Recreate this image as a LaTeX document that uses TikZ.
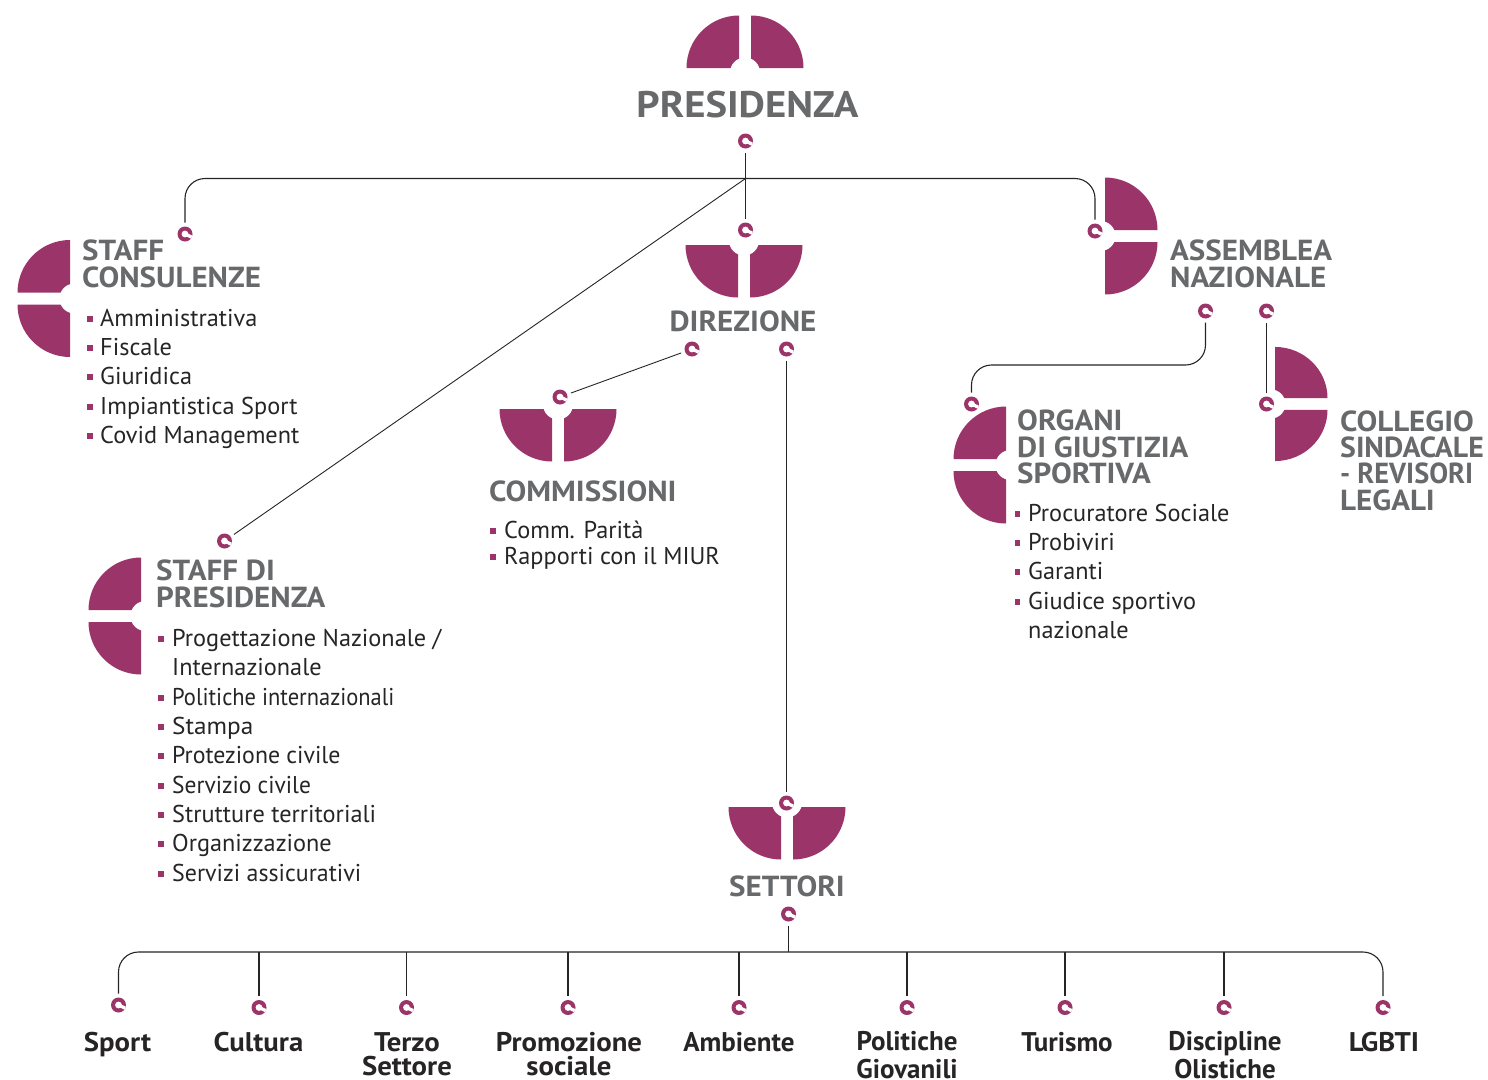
\documentclass[tikz,border=0pt]{standalone}
\usepackage{fontspec}
\setmainfont{PT Sans}
\newfontfamily\titlefont[FakeStretch=1.07]{PT Sans Bold}
\newfontfamily\leaffont{PT Sans Bold}
\newfontfamily\leafwide[FakeStretch=1.065]{PT Sans Bold}
\definecolor{mag}{HTML}{9B3468}
\definecolor{gtitle}{HTML}{68696B}
\definecolor{dk}{HTML}{262425}
\tikzset{
  ringdot/.style={circle,fill=mag,minimum size=15pt,inner sep=0pt,outer sep=4pt,
    path picture={
      \fill[white] (path picture bounding box.center) circle (3.4pt);
      \draw[white,line width=3.3pt] (path picture bounding box.center) -- ++(-25:10pt);
    }},
  wire/.style={draw=dk,line width=1.1pt},
  thinwire/.style={draw=dk,line width=0.9pt},
  title/.style={anchor=base west,inner sep=0pt,text=gtitle,font=\fontsize{29}{29}\selectfont\titlefont},
  ctitle/.style={title,anchor=base},
  item/.style={anchor=base west,inner sep=0pt,text=dk,font=\fontsize{24.3}{24.3}\selectfont},
  leaf/.style={anchor=base,inner sep=0pt,text=dk,font=\fontsize{27}{27}\selectfont\leaffont},
  leafw/.style={leaf,font=\fontsize{27}{27}\selectfont\leafwide},
  bulletmark/.style={fill=mag,inner sep=0pt,minimum size=5.5pt},
}
% emblem: [dome scale], centre x, y, rotation (0 = dome upward)
\newcommand{\emblem}[4][1]{%
  \begin{scope}[shift={(#2,#3)},rotate=#4,xscale=#1]
    \fill[mag] (-6,0) -- (-58.5,0) arc[start angle=180,end angle=270,radius=52.5] -- cycle;
    \fill[mag] (6,0) -- (58.5,0) arc[start angle=0,end angle=-90,radius=52.5] -- cycle;
    \fill[white] (0,4.5) circle (15);
  \end{scope}}
\newcommand{\bul}[5]{% name, bullet x, text x, baseline y, text
  \node[bulletmark] (#1b) at (#2,#4-7) {};
  \node[item] (#1) at (#3,#4) {#5};}
\begin{document}
\begin{tikzpicture}[x=1pt,y=-1pt]
\useasboundingbox (0,0) rectangle (1488,1079);
\clip (0,0) rectangle (1488,1079);
\emblem{745}{68}{0}
\emblem{70}{298.5}{90}
\emblem{744}{245}{180}
\emblem{558}{409}{180}
\emblem{787}{807}{180}
\emblem{1105}{236}{-90}
\emblem[0.975]{1275}{404}{-90}
\emblem{1006}{465}{90}
\emblem{141}{616}{90}

\node[ctitle,font=\fontsize{37}{37}\selectfont\titlefont] (tpres) at (747.5,117) {\scalebox{1.028}[1]{PRESIDENZA}};
\node[ctitle] (tdir) at (743,331) {DIREZIONE};
\node[title] (tcomm) at (489,501) {COMMISSIONI};
\node[ctitle] (tsett) at (787,896) {SETTORI};
\node[title] (ts1) at (82,260) {STAFF};
\node[title] (ts2) at (82,287) {CONSULENZE};
\node[title] (ta1) at (1170,260) {ASSEMBLEA};
\node[title] (ta2) at (1170,287) {NAZIONALE};
\node[title] (to1) at (1017,430) {ORGANI};
\node[title] (to2) at (1017,457) {DI GIUSTIZIA};
\node[title] (to3) at (1017,483) {SPORTIVA};
\node[title] (tc1) at (1340,431) {COLLEGIO};
\node[title] (tc2) at (1340,457) {\scalebox{0.96}[1]{SINDACALE}};
\node[title] (tc3) at (1340,483) {\scalebox{0.91}[1]{- REVISORI}};
\node[title] (tc4) at (1340,510) {LEGALI};
\node[title] (tp1) at (156,580) {STAFF DI};
\node[title] (tp2) at (156,607) {PRESIDENZA};

\bul{a1}{90}{100}{326}{Amministrativa}
\bul{a2}{90}{100}{355}{Fiscale}
\bul{a3}{90}{100}{384}{Giuridica}
\bul{a4}{90}{100}{414}{Impiantistica Sport}
\bul{a5}{90}{100}{443}{Covid Management}
\bul{c1}{493}{504}{538}{Comm. Parità}
\bul{c2}{493}{504}{564}{Rapporti con il MIUR}
\bul{g1}{1017.5}{1028}{521}{Procuratore Sociale}
\bul{g2}{1017.5}{1028}{550}{Probiviri}
\bul{g3}{1017.5}{1028}{579}{Garanti}
\bul{g4}{1017.5}{1028}{609}{Giudice sportivo}
\node[item] (g5) at (1028,638) {nazionale};
\bul{p1}{161}{172}{646}{Progettazione Nazionale /}
\node[item] (p1b2) at (172,675) {Internazionale};
\bul{p2}{161}{172}{705}{\scalebox{0.925}[1]{Politiche internazionali}}
\bul{p3}{161}{172}{734}{\scalebox{1.04}[1]{Stampa}}
\bul{p4}{161}{172}{763}{\scalebox{0.98}[1]{Protezione civile}}
\bul{p5}{161}{172}{793}{\scalebox{0.965}[1]{Servizio civile}}
\bul{p6}{161}{172}{822}{Strutture territoriali}
\bul{p7}{161}{172}{851}{Organizzazione}
\bul{p8}{161}{172}{881}{\scalebox{0.985}[1]{Servizi assicurativi}}

\node[leafw] (l1) at (117.5,1051) {Sport};
\node[leafw] (l2) at (258.5,1051) {Cultura};
\node[leafw] (l3) at (407,1051) {Terzo};
\node[leafw] (l3b) at (407,1075) {Settore};
\node[leafw] (l4) at (569,1051) {Promozione};
\node[leafw] (l4b) at (569,1075) {sociale};
\node[leaf] (l5) at (739,1051) {Ambiente};
\node[leaf] (l6) at (907,1050) {Politiche};
\node[leaf] (l6b) at (907,1078) {Giovanili};
\node[leaf] (l7) at (1067,1051) {Turismo};
\node[leaf] (l8) at (1225,1050) {Discipline};
\node[leaf] (l8b) at (1225,1078) {Olistiche};
\node[leafw] (l9) at (1384,1051) {LGBTI};

\node[ringdot] (rpres) at (745.5,141) {};
\node[ringdot] (rstaff) at (185,234) {};
\node[ringdot] (rdir) at (745.5,230) {};
\node[ringdot] (rass) at (1095,231) {};
\node[ringdot] (rsp) at (224.5,541) {};
\node[ringdot] (rd1) at (692,349) {};
\node[ringdot] (rd2) at (786.5,349) {};
\node[ringdot] (rcomm) at (560,397) {};
\node[ringdot] (rsett) at (786.5,803) {};
\node[ringdot] (ra1) at (1205.5,311) {};
\node[ringdot] (ra2) at (1266.5,311) {};
\node[ringdot] (rorg) at (971.5,404) {};
\node[ringdot] (rcol) at (1266.5,404) {};
\node[ringdot] (rs) at (788.5,914) {};
\node[ringdot] (b1) at (118.5,1005) {};
\node[ringdot] (b2) at (259,1007.5) {};
\node[ringdot] (b3) at (406.5,1007.5) {};
\node[ringdot] (b4) at (568,1007.5) {};
\node[ringdot] (b5) at (739,1007.5) {};
\node[ringdot] (b6) at (907,1007.5) {};
\node[ringdot] (b7) at (1065,1007.5) {};
\node[ringdot] (b8) at (1224,1007.5) {};
\node[ringdot] (b9) at (1383,1007.5) {};

\coordinate (jt) at (745.5,178.5);
\coordinate (jb) at (788.5,952);
\path[wire] (rpres.south) -- (rdir.north);
\path[wire,rounded corners=20] (rstaff.north) -- (rstaff.north |- jt) -- (rass.north |- jt) -- (rass.north);
\path[thinwire] (jt) -- (rsp);
\path[thinwire] (rd1) -- (rcomm);
\path[wire] (rd2.south) -- (rsett.north);
\path[wire,rounded corners=20] (ra1.south) |- (rorg.north |- 0,365) -- (rorg.north);
\path[wire] (ra2.south) -- (rcol.north);
\path[wire] (rs.south) -- (jb);
\path[wire,rounded corners=20] (b1.north) -- (b1.north |- jb) -- (b9.north |- jb) -- (b9.north);
\foreach \n in {b2,b3,b4,b5,b6,b7,b8} {\path[wire] (\n.north) -- (\n.north |- jb);}
\end{tikzpicture}
\end{document}
